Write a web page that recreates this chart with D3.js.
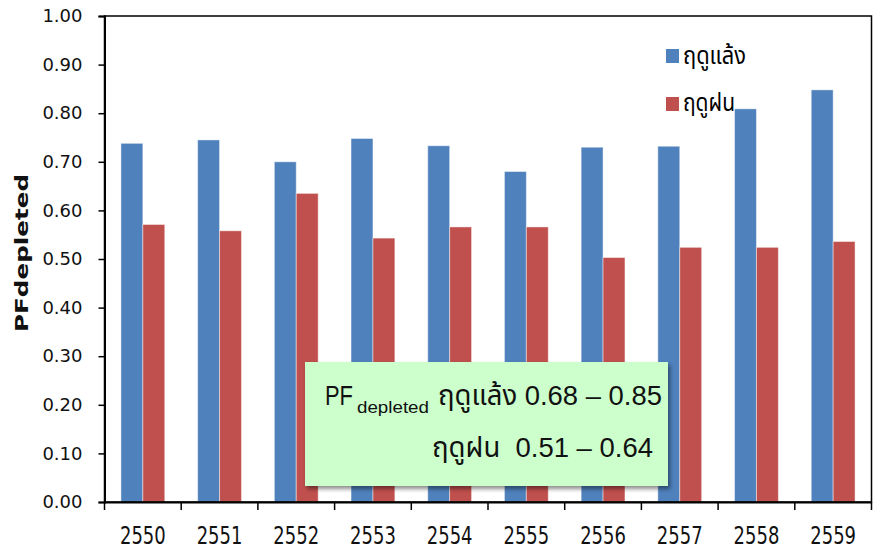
<!DOCTYPE html>
<html>
<head>
<meta charset="utf-8">
<script src="https://cdn.jsdelivr.net/npm/d3@7"></script>
<style>
  html, body { margin: 0; padding: 0; background: #fff; }
  svg { display: block; }
</style>
</head>
<body>
<svg id="chart" width="881" height="551"></svg>
<script>
// Seasonal PF(depleted) by year (Thai Buddhist calendar)
const years = ["2550", "2551", "2552", "2553", "2554", "2555", "2556", "2557", "2558", "2559"];
const dryValues = [0.738, 0.745, 0.700, 0.748, 0.733, 0.680, 0.730, 0.732, 0.809, 0.848];
const wetValues = [0.571, 0.558, 0.635, 0.543, 0.566, 0.566, 0.503, 0.524, 0.524, 0.536];
const seriesNames = ["ฤดูแล้ง", "ฤดูฝน"];
const seriesColors = ["#4F81BD", "#C0504D"];
const yTicks = [0, 0.1, 0.2, 0.3, 0.4, 0.5, 0.6, 0.7, 0.8, 0.9, 1.0];

const svg = d3.select("#chart");
const plotLeft = 104.5, plotRight = 871.5, plotTop = 16, plotBottom = 502;

const x0 = d3.scaleBand().domain(years).range([plotLeft, plotRight]).paddingInner(0).paddingOuter(0);
const x1 = d3.scaleBand().domain([0, 1]).range([0, x0.bandwidth()]).paddingInner(0).paddingOuter(0.75);
const y = d3.scaleLinear().domain([0, 1]).range([plotBottom, plotTop]);

const thaiFont = "'Noto Sans Thai', 'Noto Sans Thai UI', Tahoma, 'DejaVu Sans', sans-serif";

// Shadow for the note box
const defs = svg.append("defs");
const f = defs.append("filter").attr("id", "shadow").attr("x", "-5%").attr("y", "-5%").attr("width", "115%").attr("height", "120%");
f.append("feDropShadow").attr("dx", 2).attr("dy", 3).attr("stdDeviation", 2).attr("flood-color", "#000").attr("flood-opacity", 0.45);

// Bars
const rows = years.map((yr, i) => ({ year: yr, vals: [dryValues[i], wetValues[i]] }));
const groups = svg.append("g").selectAll("g").data(rows).join("g")
  .attr("transform", d => `translate(${x0(d.year)},0)`);
groups.selectAll("rect").data(d => d.vals.map((v, k) => ({ v, k }))).join("rect")
  .attr("x", d => x1(d.k))
  .attr("y", d => y(d.v))
  .attr("width", x1.bandwidth())
  .attr("height", d => y(0) - y(d.v))
  .attr("fill", d => seriesColors[d.k])
  .attr("stroke", "rgba(255,255,255,0.45)")
  .attr("stroke-width", 1);

// Plot frame
svg.append("rect")
  .attr("x", plotLeft).attr("y", plotTop)
  .attr("width", plotRight - plotLeft).attr("height", plotBottom - plotTop)
  .attr("fill", "none").attr("stroke", "#000").attr("stroke-width", 1.5);

// Y axis
const yAxis = svg.append("g").attr("transform", `translate(${plotLeft},0)`)
  .call(d3.axisLeft(y).tickValues(yTicks).tickFormat(d3.format(".2f")).tickSize(6).tickPadding(16));
yAxis.select(".domain").attr("stroke", "#000").attr("stroke-width", 2);
yAxis.selectAll(".tick line").attr("stroke", "#000").attr("stroke-width", 1.5);
yAxis.selectAll("text").attr("font-family", "'DejaVu Sans', sans-serif").attr("font-size", 18).attr("fill", "#111");

// X axis
const xAxis = svg.append("g").attr("transform", `translate(0,${plotBottom})`)
  .call(d3.axisBottom(x0).tickSize(0).tickFormat(""));
xAxis.select(".domain").attr("stroke", "#000").attr("stroke-width", 2);
// tick marks at category boundaries
const bounds = years.map(yr => x0(yr)).concat([plotRight]);
svg.append("g").selectAll("line").data(bounds).join("line")
  .attr("x1", d => d).attr("x2", d => d)
  .attr("y1", plotBottom).attr("y2", plotBottom + 8)
  .attr("stroke", "#000").attr("stroke-width", 1.5);
// category labels
svg.append("g").selectAll("text").data(years).join("text")
  .attr("transform", d => `translate(${x0(d) + x0.bandwidth() / 2},544) scale(1,1.34)`)
  .attr("text-anchor", "middle")
  .attr("font-family", "'DejaVu Sans', sans-serif")
  .attr("font-size", 18)
  .attr("fill", "#111")
  .text(d => d);

// Y axis title
svg.append("text")
  .attr("transform", "translate(28,253) rotate(-90)")
  .attr("text-anchor", "middle")
  .attr("font-family", "'DejaVu Sans', sans-serif")
  .attr("font-weight", "bold")
  .attr("font-size", 17)
  .attr("textLength", 158)
  .attr("lengthAdjust", "spacingAndGlyphs")
  .attr("fill", "#111")
  .text("PFdepleted");

// Legend
const legend = [
  { name: seriesNames[0], color: seriesColors[0], sy: 49, base: 64, w: 63 },
  { name: seriesNames[1], color: seriesColors[1], sy: 97, base: 111, w: 52 }
];
const lg = svg.append("g");
lg.selectAll("rect").data(legend).join("rect")
  .attr("x", 666).attr("y", d => d.sy).attr("width", 13).attr("height", 14)
  .attr("fill", d => d.color);
lg.selectAll("text").data(legend).join("text")
  .attr("x", 683).attr("y", d => d.base)
  .attr("font-family", thaiFont)
  .attr("font-size", 24)
  .attr("textLength", d => d.w)
  .attr("lengthAdjust", "spacingAndGlyphs")
  .attr("fill", "#000")
  .text(d => d.name);

// Note box with ranges
const dryMin = d3.min(dryValues), dryMax = d3.max(dryValues);
const wetMax = d3.max(wetValues);
const note = svg.append("g");
note.append("rect")
  .attr("x", 305).attr("y", 362).attr("width", 363).attr("height", 124)
  .attr("fill", "#CCFFCC").attr("filter", "url(#shadow)");
const noteFont = "'Liberation Sans', Arial, " + thaiFont;
note.append("text")
  .attr("x", 325).attr("y", 405)
  .attr("font-family", noteFont).attr("font-size", 28).attr("fill", "#111")
  .attr("textLength", 28).attr("lengthAdjust", "spacingAndGlyphs")
  .text("PF");
note.append("text")
  .attr("x", 357).attr("y", 413)
  .attr("font-family", noteFont).attr("font-size", 17).attr("fill", "#111")
  .attr("textLength", 72).attr("lengthAdjust", "spacingAndGlyphs")
  .text("depleted");
note.append("text")
  .attr("x", 438).attr("y", 405)
  .attr("font-family", noteFont).attr("font-size", 28).attr("fill", "#111")
  .attr("textLength", 224).attr("lengthAdjust", "spacingAndGlyphs")
  .text(`${seriesNames[0]} ${d3.format(".2f")(dryMin)} – ${d3.format(".2f")(dryMax)}`);
note.append("text")
  .attr("x", 432).attr("y", 457)
  .attr("font-family", noteFont).attr("font-size", 28).attr("fill", "#111")
  .attr("textLength", 221).attr("lengthAdjust", "spacingAndGlyphs")
  .attr("xml:space", "preserve")
  .text(`${seriesNames[1]}  0.51 – ${d3.format(".2f")(wetMax)}`);
</script>
</body>
</html>
